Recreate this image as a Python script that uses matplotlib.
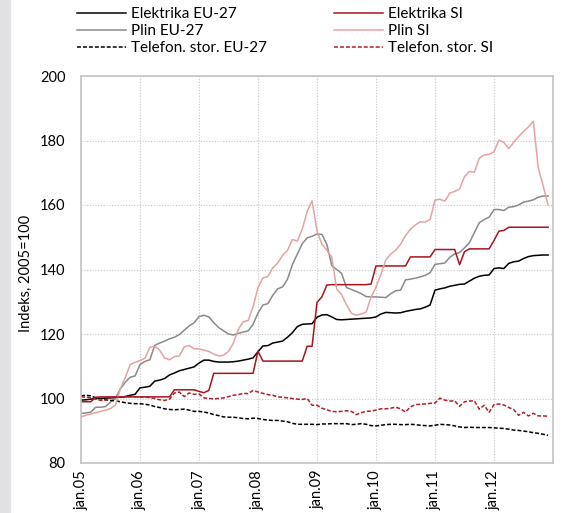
import matplotlib
matplotlib.use("Agg")
import matplotlib.pyplot as plt
import numpy as np

plt.rcParams['font.family'] = ['Lato', 'DejaVu Sans']

# monthly index values, jan 2005 - dec 2012
elektrika_eu = [99.5, 99.6, 99.8, 100.0, 100.0, 100.1, 100.2, 100.3, 100.4, 100.6, 101.0, 101.3,
                103.3, 103.5, 103.8, 105.4, 105.7, 106.2, 107.3, 107.9, 108.6, 109.0, 109.4, 109.8,
                111.0, 111.9, 111.9, 111.5, 111.3, 111.3, 111.3, 111.4, 111.6, 111.9, 112.2, 112.6,
                114.5, 116.3, 116.4, 117.2, 117.5, 117.8, 119.0, 120.4, 122.3, 123.0, 123.1, 123.2,
                125.2, 125.9, 126.0, 125.3, 124.5, 124.4, 124.5, 124.6, 124.7, 124.8, 124.9, 125.0,
                125.3, 126.2, 126.7, 126.6, 126.5, 126.6, 127.0, 127.3, 127.6, 127.8, 128.3, 129.0,
                133.6, 134.0, 134.3, 134.8, 135.1, 135.4, 135.5, 136.4, 137.3, 137.9, 138.2, 138.3,
                140.3, 140.5, 140.3, 141.9, 142.4, 142.6, 143.4, 144.0, 144.3, 144.4, 144.5, 144.5]

plin_eu = [95.4, 95.5, 95.8, 97.3, 97.3, 97.5, 98.9, 100.0, 103.0, 105.0, 106.6, 107.0,
           110.5, 111.5, 112.0, 116.5, 117.2, 117.8, 118.5, 119.0, 119.8, 121.2, 122.5, 123.5,
           125.4, 125.8, 125.3, 123.5, 122.0, 121.0, 120.0, 119.7, 120.2, 120.6, 121.0, 123.0,
           126.5, 129.0, 129.4, 132.0, 134.0, 134.6, 137.0, 141.5, 144.8, 148.0, 149.8, 150.3,
           151.0, 150.9, 147.8, 141.2, 140.0, 138.8, 134.4, 133.8, 133.2, 132.5, 131.6, 131.5,
           131.5, 131.4, 131.3, 132.5, 133.4, 133.6, 136.8, 137.0, 137.3, 137.7, 138.2, 139.0,
           141.6, 141.8, 142.0, 143.8, 144.8, 145.3, 146.7, 148.3, 151.4, 154.5, 155.5, 156.2,
           158.6, 158.6, 158.3, 159.3, 159.5, 160.0, 160.9, 161.2, 161.6, 162.4, 162.8, 162.8]

telefon_eu = [100.8, 101.0, 100.8, 100.2, 100.0, 99.6, 99.4, 99.3, 99.0, 98.7, 98.5, 98.4,
              98.4, 98.2, 98.0, 97.5, 97.2, 96.8, 96.6, 96.5, 96.6, 96.7, 96.4, 96.0,
              96.0, 95.8, 95.5, 95.0, 94.7, 94.3, 94.2, 94.2, 94.0, 93.8, 93.7, 93.9,
              93.8, 93.5, 93.3, 93.2, 93.2, 93.0, 92.8, 92.3, 92.0, 92.0, 92.0, 92.0,
              91.9, 92.1, 92.1, 92.2, 92.2, 92.2, 92.2, 91.9, 92.0, 92.2, 92.0, 91.6,
              91.5, 91.7, 91.9, 92.0, 92.0, 91.9, 91.9, 92.0, 91.9, 91.7, 91.6, 91.5,
              91.7, 92.0, 91.9, 91.8, 91.5, 91.2, 91.0, 91.1, 91.0, 91.0, 91.0, 91.0,
              90.9, 90.8, 90.7, 90.5, 90.2, 90.1, 89.9, 89.7, 89.4, 89.2, 88.9, 88.6]

elektrika_si = [99.0, 99.0, 99.0, 100.4, 100.5, 100.5, 100.5, 100.5, 100.5, 100.5, 100.5, 100.5,
                100.5, 100.5, 100.5, 100.5, 100.5, 100.5, 100.5, 102.7, 102.7, 102.7, 102.7, 102.7,
                102.2, 101.8, 102.5, 107.8, 107.8, 107.8, 107.8, 107.8, 107.8, 107.8, 107.8, 107.8,
                114.7, 111.6, 111.6, 111.6, 111.6, 111.6, 111.6, 111.6, 111.6, 111.6, 116.2, 116.2,
                129.8, 131.5, 135.2, 135.3, 135.3, 135.3, 135.3, 135.3, 135.3, 135.3, 135.3, 135.5,
                141.1, 141.1, 141.1, 141.1, 141.1, 141.1, 141.1, 143.9, 143.9, 143.9, 143.9, 143.9,
                146.2, 146.2, 146.2, 146.2, 146.2, 141.5, 145.5, 146.4, 146.4, 146.4, 146.4, 146.4,
                149.0, 151.9, 152.1, 153.1, 153.1, 153.1, 153.1, 153.1, 153.1, 153.1, 153.1, 153.1]

plin_si = [94.3, 94.8, 95.2, 95.6, 96.0, 96.4, 96.9, 97.9, 103.0, 106.5, 110.5, 111.2,
           111.8, 112.5, 115.9, 116.2, 115.0, 112.6, 112.0, 113.0, 113.2, 116.0, 116.4, 115.4,
           115.4, 115.0, 114.6, 113.8, 113.2, 113.4, 114.6, 117.2, 121.5, 123.8, 124.2, 128.5,
           134.4, 137.4, 137.8, 140.5, 142.0, 144.4, 145.9, 149.3, 148.8, 152.5, 158.0, 161.3,
           152.0, 147.8, 146.0, 143.8, 134.0, 132.2, 129.0, 126.4, 125.8, 126.2, 126.8, 131.5,
           134.5, 138.5, 143.0, 144.8, 146.0, 147.8, 150.5, 152.5, 153.8, 154.8, 154.7, 155.5,
           161.5, 161.8, 161.2, 163.7, 164.2, 165.0, 168.8, 170.4, 170.2, 174.5, 175.5, 175.7,
           176.5, 180.1, 179.4, 177.5, 179.4, 181.2, 182.8, 184.2, 186.0, 171.5, 166.0, 160.0]

telefon_si = [100.5, 100.4, 100.2, 99.8, 99.4, 99.5, 100.2, 100.4, 100.4, 100.5, 100.6, 100.5,
              100.5, 100.4, 100.3, 100.0, 99.6, 99.4, 99.8, 101.7, 102.0, 100.6, 101.7, 101.3,
              101.4, 100.2, 100.0, 99.9, 100.0, 100.2, 100.6, 101.0, 101.2, 101.6, 101.5, 102.5,
              102.0, 101.6, 101.2, 101.0, 100.5, 100.4, 100.2, 100.0, 99.8, 99.7, 100.0, 97.9,
              97.9, 97.0, 96.5, 96.0, 95.9, 96.0, 96.2, 96.0, 95.0, 95.6, 96.0, 96.1,
              96.4, 96.8, 96.8, 97.0, 97.3, 96.8, 95.8, 97.4, 98.1, 98.2, 98.3, 98.5,
              98.6, 100.1, 99.5, 99.2, 99.3, 97.6, 99.0, 99.2, 99.3, 96.7, 97.9, 95.7,
              98.1, 98.3, 98.0, 97.2, 96.6, 94.8, 95.7, 94.6, 95.4, 94.6, 94.6, 94.5]

year_labels = ["jan.05", "jan.06", "jan.07", "jan.08", "jan.09", "jan.10", "jan.11", "jan.12"]

months = np.arange(len(elektrika_eu))

fig = plt.figure(figsize=(5.64, 5.13), dpi=100)
fig.patches.append(plt.Rectangle((0, 0), 9.5 / 564, 1, transform=fig.transFigure,
                                 color="#e1e1e3", zorder=0))
ax = fig.add_axes([81 / 564, 1 - 463 / 513, (553 - 81) / 564, (463 - 76) / 513])

dash = (0, (2.6, 1.3))
l1, = ax.plot(months, elektrika_eu, color="black", lw=1.1)
l2, = ax.plot(months, plin_eu, color="#8a8a8a", lw=1.1)
l3, = ax.plot(months, telefon_eu, color="black", lw=1.1, linestyle=dash)
l4, = ax.plot(months, elektrika_si, color="#a8141c", lw=1.1)
l5, = ax.plot(months, plin_si, color="#e6a2a2", lw=1.1)
l6, = ax.plot(months, telefon_si, color="#b01e26", lw=1.1, linestyle=dash)

ax.set_xlim(0, 96)
ax.set_ylim(80, 200)
ax.set_yticks(np.arange(80, 201, 20))
ax.set_xticks(np.arange(0, 96, 12))
ax.set_xticklabels(year_labels, rotation=90, va="top", ha="center")
ax.tick_params(axis="both", length=0, labelsize=10.5, colors="black")
ax.tick_params(axis="y", pad=11)
ax.tick_params(axis="x", pad=5)
ax.grid(True, linestyle=(0, (1, 1.5)), color="#c8c8c8", lw=0.8)
for s in ax.spines.values():
    s.set_color("#c4c4c4")
    s.set_linewidth(1.2)
ax.set_ylabel("Indeks, 2005=100", fontsize=10.5)
ax.yaxis.set_label_coords(-(81 - 33) / 472, 0.49)

leg_kw = dict(frameon=False, fontsize=11, handlelength=3.2, handletextpad=0.33,
              labelspacing=0.2, borderpad=0, borderaxespad=0, loc="upper left")
fig.legend([l1, l2, l3], ["Elektrika EU-27", "Plin EU-27", "Telefon. stor. EU-27"],
           bbox_to_anchor=(77 / 564, 1 - 7 / 513), **leg_kw)
fig.legend([l4, l5, l6], ["Elektrika SI", "Plin SI", "Telefon. stor. SI"],
           bbox_to_anchor=(334 / 564, 1 - 7 / 513), **leg_kw)

fig.savefig("out.png", dpi=100)
